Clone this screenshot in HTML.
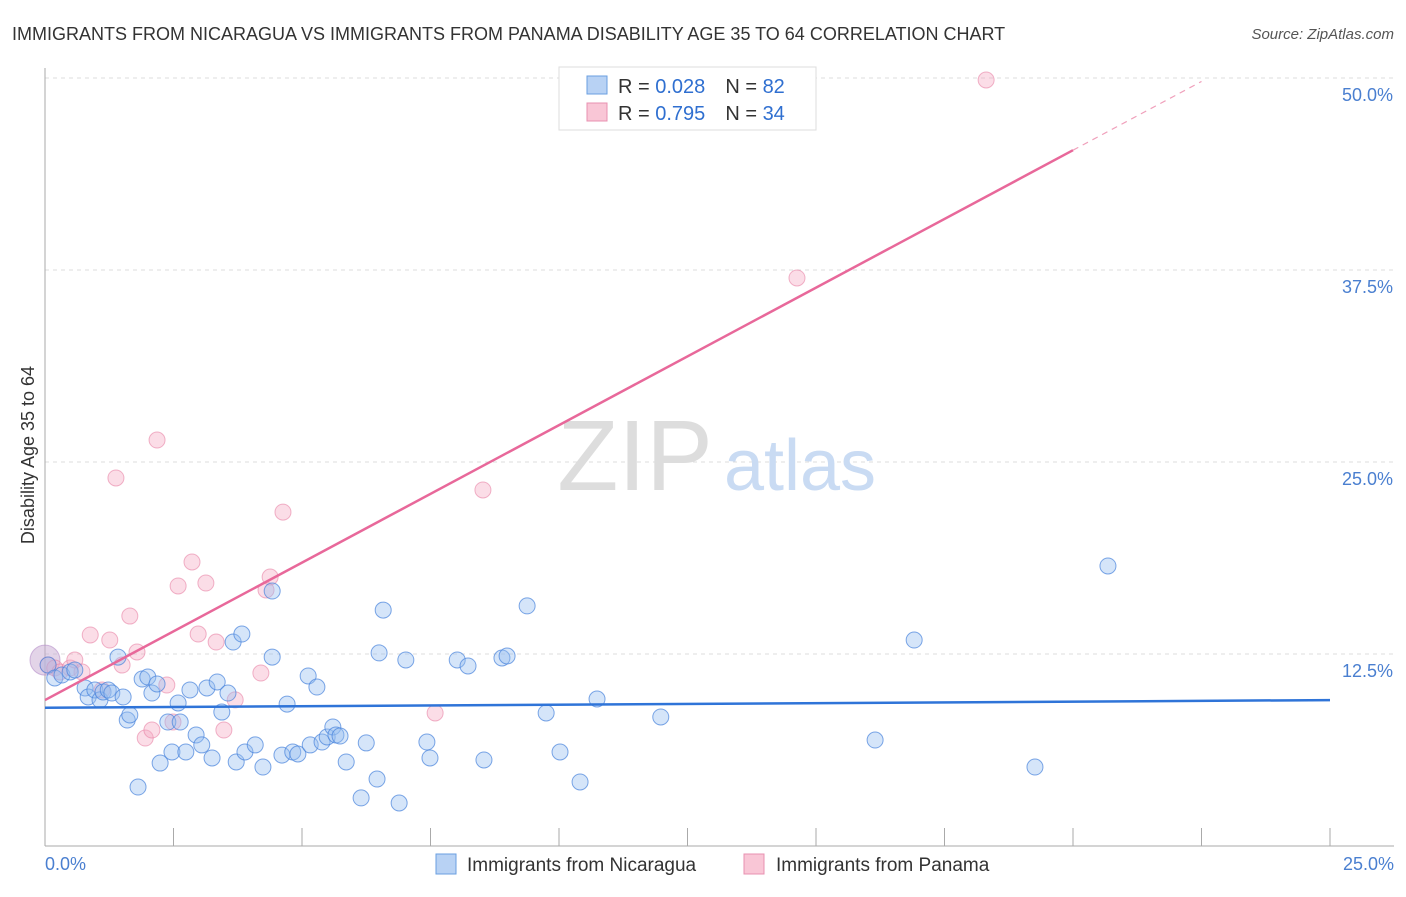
<!DOCTYPE html>
<html><head><meta charset="utf-8"><style>
body{margin:0;background:#fff;font-family:"Liberation Sans",sans-serif;}
svg text{font-family:"Liberation Sans",sans-serif;}
</style></head><body>
<svg id="chart" width="1406" height="892">
<text x="12" y="40" font-size="18" fill="#333">IMMIGRANTS FROM NICARAGUA VS IMMIGRANTS FROM PANAMA DISABILITY AGE 35 TO 64 CORRELATION CHART</text>
<text x="1394" y="39" font-size="15" fill="#555" text-anchor="end" font-style="italic">Source: ZipAtlas.com</text>
<g id="grid"></g>
<text x="635" y="490" font-size="100" fill="#ddd" font-family="Liberation Serif" text-anchor="middle">ZIP</text>
<text x="800" y="490" font-size="72" fill="#c9dbf3" text-anchor="middle">atlas</text>
<g id="pts"></g>
<g id="lines"></g>
<text transform="translate(34,455) rotate(-90)" font-size="18" fill="#333" text-anchor="middle">Disability Age 35 to 64</text>
<text x="45" y="870" font-size="18" fill="#4a7fd0">0.0%</text>
<text x="1394" y="870" font-size="18" fill="#4a7fd0" text-anchor="end">25.0%</text>
<g>
<rect x="559" y="67" width="257" height="63" fill="#fff" stroke="#ddd"/>
<rect x="587" y="76" width="20" height="18" fill="#b8d2f4" stroke="#6a9fe0"/>
<rect x="587" y="103" width="20" height="18" fill="#f9c6d6" stroke="#e890b0"/>
<text x="618" y="93" font-size="20" fill="#333">R = <tspan fill="#2f6fd0">0.028</tspan><tspan dx="20">N = </tspan><tspan fill="#2f6fd0">82</tspan></text>
<text x="618" y="120" font-size="20" fill="#333">R = <tspan fill="#2f6fd0">0.795</tspan><tspan dx="20">N = </tspan><tspan fill="#2f6fd0">34</tspan></text>
</g>
<g>
<rect x="436" y="854" width="20" height="20" fill="#b8d2f4" stroke="#6a9fe0"/>
<text x="467" y="871" font-size="19" fill="#333">Immigrants from Nicaragua</text>
<rect x="744" y="854" width="20" height="20" fill="#f9c6d6" stroke="#e890b0"/>
<text x="776" y="871" font-size="19" fill="#333">Immigrants from Panama</text>
</g>
</svg>
<script>
const yTicks=[12.5,25,37.5,50];
const yTickLabels=["12.5%","25.0%","37.5%","50.0%"];
const blueX=[.06,.19,.33,.49,.58,.78,.84,.97,1.07,1.13,1.23,1.30,1.42,1.52,1.60,1.65,1.81,1.89,2.00,2.08,2.18,2.24,2.39,2.47,2.59,2.63,2.74,2.82,2.94,3.05,3.15,3.25,3.35,3.44,3.56,3.66,3.72,3.83,3.89,4.09,4.24,4.42,4.42,4.61,4.71,4.82,4.92,5.12,5.16,5.29,5.39,5.49,5.60,5.66,5.74,5.86,6.15,6.25,6.46,6.50,6.58,6.89,7.02,7.43,7.49,8.02,8.23,8.54,8.89,8.99,9.38,9.75,10.02,10.41,10.74,11.98,16.15,16.91,19.26,20.68];
const blueY=[11.78,10.94,11.13,11.33,11.46,10.29,9.70,10.16,9.51,10.03,10.16,9.96,12.30,9.70,8.20,8.53,3.84,10.87,11.00,9.96,10.55,5.40,8.07,6.12,9.31,8.07,6.12,10.16,7.23,6.58,10.29,5.73,10.68,8.72,9.96,13.28,5.47,13.80,6.12,6.58,5.14,16.60,12.30,5.92,9.24,6.12,5.99,11.07,6.58,10.35,6.77,7.10,7.75,7.23,7.16,5.47,3.13,6.71,4.36,12.57,15.36,2.80,12.11,6.77,5.73,12.11,11.72,5.60,12.24,12.37,15.63,8.66,6.12,4.17,9.57,8.40,6.90,13.41,5.14,18.23];
const pinkX=[.06,.19,.29,.49,.58,.72,.88,1.11,1.26,1.38,1.50,1.65,1.79,1.95,2.08,2.18,2.37,2.49,2.59,2.86,2.98,3.13,3.33,3.48,3.70,4.20,4.30,4.38,4.63,7.59,8.52,14.63,18.31];
const pinkY=[11.78,11.59,11.33,11.59,12.11,11.33,13.74,10.16,13.41,23.96,11.78,14.97,12.63,7.03,7.55,26.43,10.48,8.07,16.93,18.49,13.80,17.12,13.28,7.55,9.51,11.26,16.67,17.51,21.74,8.66,23.18,36.98,49.87];
const blueTrend=[9.0,9.5];
const pinkTrend=[9.5,45.3];
const NS='http://www.w3.org/2000/svg';
const X=v=>45+v*51.4, Y=v=>846-v*15.36;
function mk(p,t,a){const e=document.createElementNS(NS,t);for(const k in a)e.setAttribute(k,a[k]);p.appendChild(e);return e;}
const g=document.getElementById('grid');
yTicks.forEach((t,i)=>{
 const l=mk(g,'line',{x1:45,x2:1394,y1:Y(t),y2:Y(t),stroke:'#ddd','stroke-dasharray':'4,4'});
 
 
 const tx=mk(g,'text',{x:1393,y:Y(t)+23,'font-size':18,fill:'#4a7fd0','text-anchor':'end'});
 tx.textContent=yTickLabels[i];
 
 
});
mk(g,'line',{x1:45,x2:45,y1:68,y2:846,stroke:'#aaa'});
mk(g,'line',{x1:45,x2:1394,y1:846,y2:846,stroke:'#aaa'});
for(let i=0;i<=10;i++){const t=mk(g,'line',{x1:X(i*2.5),x2:X(i*2.5),y1:828,y2:846,stroke:'#aaa'});
 
 }
const pg=document.getElementById('pts');
const big=mk(pg,'circle',{cx:X(0),cy:Y(12.1),r:15,fill:'rgba(200,170,210,0.5)',stroke:'rgba(180,140,200,0.6)'});


pinkX.forEach((v,i)=>{const c=mk(pg,'circle',{cx:X(v),cy:Y(pinkY[i]),r:8,fill:'rgba(245,170,195,0.4)',stroke:'rgba(232,130,165,0.6)'});
 
 });
blueX.forEach((v,i)=>{const c=mk(pg,'circle',{cx:X(v),cy:Y(blueY[i]),r:8,fill:'rgba(150,190,240,0.4)',stroke:'rgba(70,130,220,0.7)'});
 
 });
const lg=document.getElementById('lines');
const bl=mk(lg,'line',{x1:X(0),y1:Y(blueTrend[0]),x2:X(25),y2:Y(blueTrend[1]),stroke:'#2f74d8','stroke-width':2.5});


const pk=v=>pinkTrend[0]+(pinkTrend[1]-pinkTrend[0])*v/20;
const pl=mk(lg,'line',{x1:X(0),y1:Y(pk(0)),x2:X(20),y2:Y(pk(20)),stroke:'#e8689a','stroke-width':2.5});


const pd=mk(lg,'line',{x1:X(20),y1:Y(pk(20)),x2:X(22.5),y2:Y(pk(22.5)),stroke:'#f0a0bb','stroke-width':1.2,'stroke-dasharray':'6,5'});


</script>
</body></html>
